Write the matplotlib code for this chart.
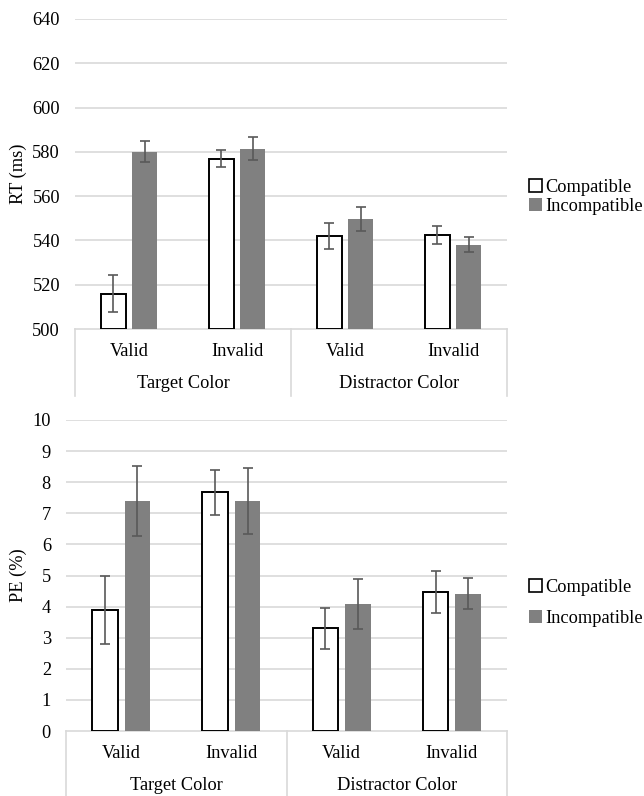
import matplotlib
matplotlib.use("Agg")
import matplotlib.pyplot as plt
from matplotlib.patches import Patch
import numpy as np

plt.rcParams['font.family'] = ['Liberation Serif', 'DejaVu Serif']

# Condition labels
cues = ["Valid", "Invalid", "Valid", "Invalid"]
groups = ["Target Color", "Distractor Color"]
series = ["Compatible", "Incompatible"]

# Reaction time (ms)
rt_compatible = [516, 577, 542, 542.5]
rt_incompatible = [580, 581.5, 549.5, 538]
rt_compatible_err = [8.4, 3.8, 6.0, 4.0]
rt_incompatible_err = [4.7, 5.2, 5.4, 3.4]

# Percentage of errors
pe_compatible = [3.9, 7.67, 3.3, 4.48]
pe_incompatible = [7.4, 7.4, 4.08, 4.41]
pe_compatible_err = [1.1, 0.72, 0.67, 0.67]
pe_incompatible_err = [1.12, 1.07, 0.8, 0.5]

rt_ticks = [500, 520, 540, 560, 580, 600, 620, 640]
pe_ticks = list(range(0, 11))

W, H = 644, 796
fig = plt.figure(figsize=(W / 100, H / 100), dpi=100)

GRID = "#d9d9d9"
GRAY = "#808080"
ERR = "#595959"
FS = 13.2


def px_axes(left, top, right, bottom):
    return fig.add_axes([left / W, 1 - bottom / H, (right - left) / W, (bottom - top) / H])


def draw_panel(ax, comp, incomp, comp_err, incomp_err, ticks, ylabel,
               box_bottom_px, axis_bottom_px, legend_y, legend_spacing, tickpad_px,
               label_right_px):
    x = np.arange(len(cues))
    bw = 0.23
    off = 0.147
    lo, hi = ticks[0], ticks[-1]
    ax.bar(x - off, np.array(comp) - lo, bw, bottom=lo, color="white",
           edgecolor="black", linewidth=1.4, zorder=3)
    ax.bar(x + off, np.array(incomp) - lo, bw, bottom=lo, color=GRAY,
           edgecolor="none", zorder=3)
    ekw = dict(fmt="none", ecolor=ERR, elinewidth=1.2, capsize=3.5, capthick=1.2, zorder=4)
    ax.errorbar(x - off, comp, yerr=comp_err, **ekw)
    ax.errorbar(x + off, incomp, yerr=incomp_err, **ekw)

    ax.set_xlim(-0.5, len(cues) - 0.5)
    ax.set_ylim(lo, hi)
    ax.set_yticks(ticks)
    ax.set_yticklabels([str(t) for t in ticks], fontsize=FS)
    ax.tick_params(axis="y", length=0, pad=tickpad_px * 0.72)
    ax.set_xticks([])
    for t in ticks[1:]:
        ax.axhline(t, color=GRID, linewidth=1.2, zorder=0)
    for s in ["top", "right", "left"]:
        ax.spines[s].set_visible(False)
    ax.spines["bottom"].set_color(GRID)
    ax.spines["bottom"].set_linewidth(1.2)

    pos = ax.get_position()
    ax_w_px = pos.width * W
    ax_h_px = pos.height * H
    ax.set_ylabel(ylabel, fontsize=FS)
    ax.yaxis.set_label_coords((label_right_px - pos.x0 * W) / ax_w_px, 0.5)

    # Two-level category box under the axis
    d = (box_bottom_px - axis_bottom_px) / ax_h_px
    trans = ax.get_xaxis_transform()
    for xv in [-0.5, 1.5, 3.5]:
        ax.plot([xv, xv], [0, -d], color=GRID, linewidth=1.2, transform=trans,
                clip_on=False)
    for xi, lab in zip(x, cues):
        ax.text(xi, -22 / ax_h_px, lab, transform=trans, ha="center", va="center",
                fontsize=FS)
    for gi, g in enumerate(groups):
        ax.text(0.5 + 2 * gi, -55 / ax_h_px, g, transform=trans, ha="center",
                va="center", fontsize=FS)

    handles = [Patch(facecolor="white", edgecolor="black", linewidth=1.2),
               Patch(facecolor=GRAY, edgecolor="none")]
    fig.legend(handles, series, loc="center left",
               bbox_to_anchor=(520 / W, 1 - legend_y / H), frameon=False,
               fontsize=FS, handlelength=0.7, handleheight=0.7,
               handletextpad=0.2, labelspacing=legend_spacing, borderpad=0)


ax1 = px_axes(75, 19, 507, 329)
draw_panel(ax1, rt_compatible, rt_incompatible, rt_compatible_err, rt_incompatible_err,
           rt_ticks, "RT (ms)", 396, 329, 197, 0.12, 15, 27)

ax2 = px_axes(66, 420, 507, 731)
draw_panel(ax2, pe_compatible, pe_incompatible, pe_compatible_err, pe_incompatible_err,
           pe_ticks, "PE (%)", 796, 731, 603, 0.8, 15, 27)

fig.savefig("out.png", dpi=100)
